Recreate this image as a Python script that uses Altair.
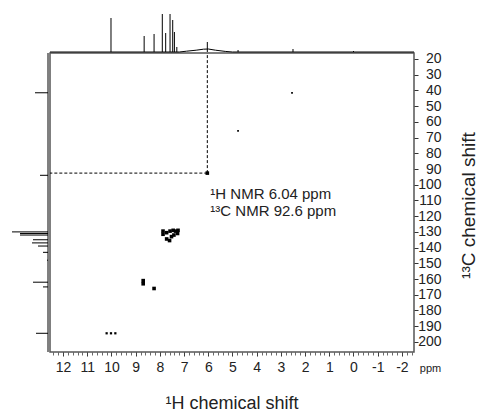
import altair as alt
import pandas as pd

FONT = "Liberation Sans"

# axis ranges (ppm)
X_DOM = [-2.5, 12.54]
Y_DOM = [16.2, 206.4]
x_ticks = list(range(-2, 13))
y_ticks = list(range(20, 201, 10))
x_minor = [round(-2.4 + 0.2 * i, 2) for i in range(0, 75)]

# 2D cross peaks (1H ppm, 13C ppm)
strong_h = [8.69, 8.69, 8.24, 7.87, 7.87, 7.72, 7.58, 7.45, 7.35, 7.25, 7.27, 7.72, 7.60, 7.52, 7.42, 6.04]
strong_c = [161.0, 163.0, 166.0, 129.5, 131.5, 130.5, 129.5, 129.0, 129.5, 129.0, 131.0, 134.5, 135.5, 133.0, 132.0, 92.6]
small_h = [10.20, 10.02, 9.84]
small_c = [194.5, 194.5, 194.5]
weak_h = [4.77, 2.54]
weak_c = [65.8, 41.6]

# 1H projection (top)
h1_ppm = [10.02, 8.65, 8.24, 7.90, 7.76, 7.58, 7.47, 7.40, 7.30, 6.04, 4.77, 2.50, 0.00]
h1_int = [34, 16, 18, 38, 19, 38, 32, 20, 5, 10, 2, 3, 1]
h1_base_ppm = [12.54, 7.2, 6.9, 6.5, 6.2, 6.0, 5.7, 5.3, 5.0, -2.5]
h1_base_int = [0, 0, 0.8, 1.8, 2.8, 3.0, 1.8, 0.6, 0, 0]

# 13C projection (left)
c13_ppm = [41.5, 94.0, 130.0, 131.0, 132.0, 135.0, 137.0, 139.0, 143.0, 148.0, 162.0, 165.0, 194.5]
c13_int = [13, 8, 36, 28, 28, 15, 16, 10, 5, 1, 15, 5, 12]

# marked cross peak
mark_h = [6.04]
mark_c = [92.6]
note = ["\u00b9H NMR 6.04 ppm\n\u00b9\u00b3C NMR 92.6 ppm"]

xs = alt.Scale(domain=X_DOM, reverse=True, nice=False, zero=False)
ys = alt.Scale(domain=Y_DOM, reverse=True, nice=False, zero=False)

strong = pd.DataFrame({"h": strong_h, "c": strong_c})
small = pd.DataFrame({"h": small_h, "c": small_c})
weak = pd.DataFrame({"h": weak_h, "c": weak_c})
top = pd.DataFrame({"ppm": h1_ppm, "i": h1_int, "b": 0})
topbase = pd.DataFrame({"ppm": h1_base_ppm, "i": h1_base_int})
left = pd.DataFrame({"ppm": c13_ppm, "i": c13_int, "b": 0})
leftbase = pd.DataFrame({"y1": [Y_DOM[0]], "y2": [Y_DOM[1]], "b": [0]})
cross = pd.DataFrame({"h": mark_h, "c": mark_c, "top": Y_DOM[0], "left": X_DOM[1], "t": note})

x_axis = alt.Axis(values=x_ticks, orient="bottom", domain=False, grid=False, tickSize=4,
                  tickColor="#333", labelFontSize=14, labelColor="#222", labelFont=FONT,
                  labelPadding=4, labelExpr="'' + datum.value",
                  title="ppm", titleFontSize=11, titleFont=FONT, titleFontWeight="normal",
                  titleColor="#222", titleX=380, titleY=16, titleAlign="center",
                  titleBaseline="middle")
y_axis = alt.Axis(values=y_ticks, orient="right", domain=False, grid=False, tickSize=4,
                  tickColor="#333", labelFontSize=14, labelColor="#222", labelFont=FONT,
                  labelAlign="right", labelBaseline="middle", labelPadding=23,
                  title="\u00b9\u00b3C chemical shift", titleFontSize=19, titleFont=FONT,
                  titleFontWeight="normal", titleColor="#222", titleAngle=270,
                  titleX=54, titleY=152, titleAlign="center", titleBaseline="middle")

main = alt.Chart(strong).mark_square(size=13, color="black", opacity=1).encode(
    x=alt.X("h:Q", scale=xs, axis=x_axis),
    y=alt.Y("c:Q", scale=ys, axis=y_axis),
)
small_l = alt.Chart(small).mark_square(size=5, color="black", opacity=1).encode(
    x=alt.X("h:Q", scale=xs, axis=None),
    y=alt.Y("c:Q", scale=ys, axis=None),
)
weak_l = alt.Chart(weak).mark_square(size=3, color="black", opacity=1).encode(
    x=alt.X("h:Q", scale=xs, axis=None),
    y=alt.Y("c:Q", scale=ys, axis=None),
)

top_scale = alt.Scale(domain=[0, 38], range=[-1, -39], nice=False, zero=False)
top_l = alt.Chart(top).mark_rule(color="black", strokeWidth=1).encode(
    x=alt.X("ppm:Q", scale=xs,
            axis=alt.Axis(values=x_minor, orient="bottom", labels=False, domain=False,
                          grid=False, tickSize=3, tickColor="#444", tickWidth=0.8,
                          title=None, zindex=1, offset=0)),
    y=alt.Y("b:Q", scale=top_scale, axis=None),
    y2="i:Q",
)
topbase_l = alt.Chart(topbase).mark_line(color="black", strokeWidth=1).encode(
    x=alt.X("ppm:Q", scale=xs, axis=None),
    y=alt.Y("i:Q", scale=top_scale, axis=None),
)

left_scale = alt.Scale(domain=[0, 36], range=[-2, -38], nice=False, zero=False)
left_l = alt.Chart(left).mark_rule(color="black", strokeWidth=1).encode(
    y=alt.Y("ppm:Q", scale=ys, axis=None),
    x=alt.X("b:Q", scale=left_scale, axis=None),
    x2="i:Q",
)
leftbase_l = alt.Chart(leftbase).mark_rule(color="black", strokeWidth=1).encode(
    y=alt.Y("y1:Q", scale=ys, axis=None),
    y2="y2:Q",
    x=alt.X("b:Q", scale=left_scale, axis=None),
)

vdash = alt.Chart(cross).mark_rule(color="black", strokeWidth=1, strokeDash=[3, 2]).encode(
    x=alt.X("h:Q", scale=xs, axis=None),
    y=alt.Y("c:Q", scale=ys, axis=None),
    y2="top:Q",
)
hdash = alt.Chart(cross).mark_rule(color="black", strokeWidth=1, strokeDash=[3, 2]).encode(
    x=alt.X("h:Q", scale=xs, axis=None),
    x2="left:Q",
    y=alt.Y("c:Q", scale=ys, axis=None),
)
text_l = alt.Chart(cross).mark_text(align="left", baseline="top", dx=3, dy=14,
                                    fontSize=15, font=FONT, color="#222",
                                    lineBreak="\n", lineHeight=17).encode(
    x=alt.X("h:Q", scale=xs, axis=None),
    y=alt.Y("c:Q", scale=ys, axis=None),
    text="t:N",
)

chart = alt.layer(top_l, topbase_l, left_l, leftbase_l, vdash, hdash, main, small_l, weak_l,
                  text_l).resolve_scale(
    x="independent", y="independent"
).properties(
    width=364, height=299,
    autosize=alt.AutoSizeParams(type="none"),
    padding={"left": 42, "top": 45, "right": 67, "bottom": 62},
    title=alt.TitleParams("\u00b9H chemical shift", orient="bottom", anchor="middle",
                          fontSize=18, font=FONT, fontWeight="normal", color="#222",
                          offset=21),
).configure_view(stroke="#555", strokeWidth=1.5)

chart.save("out.html", embed_options={"renderer": "svg", "actions": False})
